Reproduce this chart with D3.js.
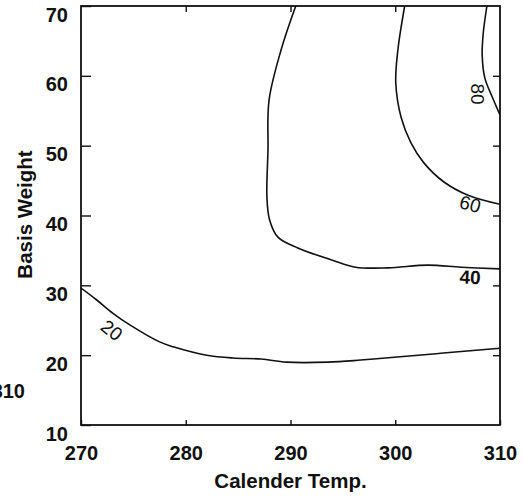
<!DOCTYPE html>
<html>
<head>
<meta charset="utf-8">
<script src="https://cdn.jsdelivr.net/npm/d3@7"></script>
<style>
  body { margin: 0; background: #fff; }
  svg { display: block; }
</style>
</head>
<body>
<svg id="chart"></svg>
<script>
// contour lines as [calender temp, basis weight]
const contour20 = [[270, 29.6], [271.5, 27.9], [273.05, 26.0], [274.7, 24.3], [277.5, 21.9],
                   [278.8, 21.2], [282.0, 20.0], [284.5, 19.6], [287.2, 19.45], [289.6, 19.0],
                   [293.6, 19.0], [296.7, 19.3], [299.9, 19.7], [304.6, 20.3], [310, 21.0]];
const contour40 = [[290.5, 70], [289.1, 63.7], [287.95, 56.5], [287.85, 49.4], [287.75, 42.6],
                   [288.0, 39.4], [288.8, 36.9], [290.7, 35.35], [294.0, 33.6], [296.2, 32.6],
                   [299.3, 32.5], [303.1, 32.9], [306.3, 32.6], [310, 32.35]];
const contour60 = [[300.9, 70], [300.25, 63.7], [300.05, 59.0], [300.55, 54.1], [301.5, 50.4],
                   [302.75, 47.5], [304.65, 44.8], [306.95, 42.9], [310, 41.6]];
const contour80 = [[308.75, 70], [308.4, 66.1], [308.3, 63.0], [308.55, 59.7], [309.25, 57.0],
                   [310, 54.4]];

const levels = [20, 40, 60, 80];
const lines = [contour20, contour40, contour60, contour80];

// where each level label sits, and its slant in degrees
const labelTemp = [272.95, 307.15, 307.15, 307.9];
const labelWeight = [23.6, 31.2, 41.65, 57.4];
const labelAngle = [38, 3, 15, 90];

const xTicks = [270, 280, 290, 300, 310];
const yTicks = [10, 20, 30, 40, 50, 60, 70];

const width = 522, height = 499;
const plotLeft = 81, plotRight = 500, plotTop = 6, plotBottom = 425;

const svg = d3.select("#chart")
              .attr("width", width)
              .attr("height", height)
              .attr("viewBox", [0, 0, width, height])
              .attr("font-family", "'Liberation Sans', Arial, sans-serif");

const x = d3.scaleLinear([270, 310], [plotLeft, plotRight]);
const y = d3.scaleLinear([10, 70], [plotBottom, plotTop]);

svg.append("rect")
   .attr("width", width)
   .attr("height", height)
   .attr("fill", "#fff");

svg.append("clipPath")
   .attr("id", "plot")
   .append("rect")
   .attr("x", plotLeft)
   .attr("y", plotTop)
   .attr("width", plotRight - plotLeft)
   .attr("height", plotBottom - plotTop);

const line = d3.line()
               .x(d => x(d[0]))
               .y(d => y(d[1]))
               .curve(d3.curveCatmullRom.alpha(0.5));

svg.append("g")
   .attr("clip-path", "url(#plot)")
   .selectAll("path")
   .data(lines)
   .join("path")
   .attr("d", line)
   .attr("fill", "none")
   .attr("stroke", "#111")
   .attr("stroke-width", 1.6);

svg.append("g")
   .selectAll("text")
   .data(levels)
   .join("text")
   .attr("transform", (d, i) => `translate(${x(labelTemp[i])},${y(labelWeight[i])}) rotate(${labelAngle[i]})`)
   .attr("text-anchor", "middle")
   .attr("dy", "0.36em")
   .attr("font-size", 19)
   .attr("font-weight", d => d === 40 ? "bold" : "normal")
   .attr("fill", "#111")
   .text(d => d);

// axes: ticks point into the plot
const yAxis = d3.axisLeft(y).tickValues(yTicks).tickSize(-10).tickPadding(13);
const xAxis = d3.axisBottom(x).tickValues(xTicks).tickSize(-5).tickPadding(21);

svg.append("g")
   .attr("transform", `translate(${plotLeft},0)`)
   .call(yAxis)
   .call(g => g.select(".domain").remove())
   .selectAll("text")
   .attr("dy", "0")
   .attr("y", 15)
   .attr("font-size", 20)
   .attr("font-weight", "bold")
   .attr("fill", "#111");

svg.append("g")
   .attr("transform", `translate(0,${plotBottom})`)
   .call(xAxis)
   .call(g => g.select(".domain").remove())
   .selectAll("text")
   .attr("font-size", 20)
   .attr("font-weight", "bold")
   .attr("fill", "#111");

svg.append("g")
   .attr("transform", `translate(${plotRight},0)`)
   .call(d3.axisRight(y).tickValues(yTicks.slice(1, -1)).tickSize(-7).tickFormat(""))
   .call(g => g.select(".domain").remove());

svg.append("g")
   .attr("transform", `translate(0,${plotTop})`)
   .call(d3.axisTop(x).tickValues(xTicks.slice(1, -1)).tickSize(-6).tickFormat(""))
   .call(g => g.select(".domain").remove());

svg.selectAll(".tick line")
   .attr("stroke", "#111")
   .attr("stroke-width", 1.4);

svg.append("rect")
   .attr("x", plotLeft)
   .attr("y", plotTop)
   .attr("width", plotRight - plotLeft)
   .attr("height", plotBottom - plotTop)
   .attr("fill", "none")
   .attr("stroke", "#111")
   .attr("stroke-width", 1.8);

svg.append("text")
   .attr("x", (plotLeft + plotRight) / 2)
   .attr("y", 488)
   .attr("text-anchor", "middle")
   .attr("font-size", 20.5)
   .attr("font-weight", "bold")
   .attr("fill", "#111")
   .text("Calender Temp.");

svg.append("text")
   .attr("transform", `translate(32,${(plotTop + plotBottom) / 2 - 1}) rotate(-90)`)
   .attr("text-anchor", "middle")
   .attr("font-size", 20.5)
   .attr("font-weight", "bold")
   .attr("fill", "#111")
   .text("Basis Weight");

// stray tick label left over at the page edge
svg.append("text")
   .attr("x", 25)
   .attr("y", 398)
   .attr("text-anchor", "end")
   .attr("font-size", 20)
   .attr("font-weight", "bold")
   .attr("fill", "#111")
   .text(xTicks[xTicks.length - 1]);
</script>
</body>
</html>
